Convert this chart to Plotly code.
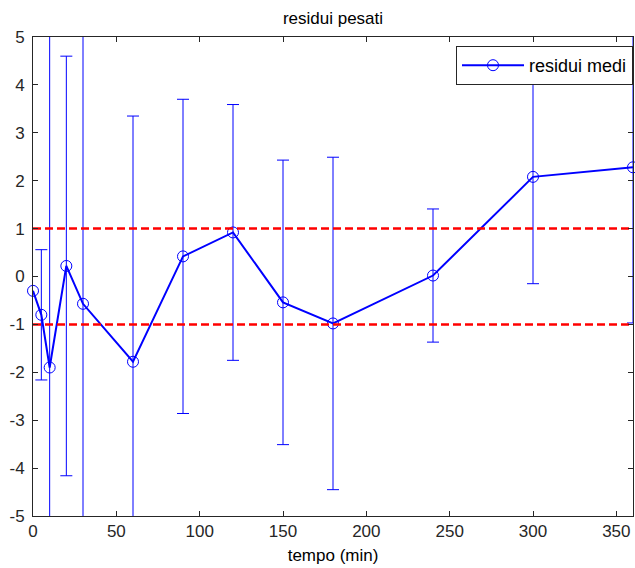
import plotly.graph_objects as go

# ---- data ----
TIME = [0, 5, 10, 20, 30, 60, 90, 120, 150, 180, 240, 300, 360]
RESIDUI = [-0.30, -0.80, -1.90, 0.22, -0.57, -1.78, 0.42, 0.92, -0.54, -0.98, 0.02, 2.08, 2.28]
ERRORI = [None, 1.36, 7.5, 4.38, 6.0, 5.13, 3.28, 2.67, 2.97, 3.47, 1.39, 2.23, 3.25]
LIMITI = [-1, 1]
X_RANGE = [0, 360]
Y_RANGE = [-5, 5]
XTICKS = [0, 50, 100, 150, 200, 250, 300, 350]
YTICKS = [-5, -4, -3, -2, -1, 0, 1, 2, 3, 4, 5]

BLUE = "#0000ff"
FONT = "Liberation Sans, Arial, sans-serif"

fig = go.Figure()

# error bars (only where visible)
ex = [t for t, e in zip(TIME, ERRORI) if e is not None]
ey = [r for r, e in zip(RESIDUI, ERRORI) if e is not None]
ee = [e for e in ERRORI if e is not None]
fig.add_trace(go.Scatter(
    x=ex, y=ey, mode="markers",
    marker=dict(size=1, color="rgba(0,0,0,0)"),
    error_y=dict(type="data", array=ee, visible=True, color=BLUE, thickness=1, width=6),
    showlegend=False, hoverinfo="skip",
))

# main line with open circles
fig.add_trace(go.Scatter(
    x=TIME, y=RESIDUI, mode="lines+markers", name="residui medi",
    line=dict(color=BLUE, width=2),
    marker=dict(symbol="circle-open", size=11, color=BLUE, line=dict(width=1, color=BLUE)),
    cliponaxis=False,
))

# red dashed limit lines
for lim in LIMITI:
    fig.add_trace(go.Scatter(
        x=X_RANGE, y=[lim, lim], mode="lines",
        line=dict(color="#ff0000", width=2.5, dash="8px,4px"),
        showlegend=False, hoverinfo="skip",
    ))

axis_common = dict(
    showline=True, linecolor="#262626", linewidth=1, mirror="ticks",
    ticks="inside", ticklen=5, tickwidth=1, tickcolor="#262626",
    showgrid=False, zeroline=False, automargin=False,
    tickfont=dict(family=FONT, size=17, color="#262626"),
)

W, H = 635, 568
fig.update_layout(
    width=W, height=H,
    margin=dict(l=33, r=2, t=37, b=52),
    paper_bgcolor="white", plot_bgcolor="white",
    title=dict(text="residui pesati", x=0.5, xref="paper", xanchor="center",
               y=1 - 18 / H, yanchor="middle", automargin=False,
               font=dict(family=FONT, size=17, color="black")),
    xaxis=dict(range=X_RANGE, tickvals=XTICKS, ticktext=[str(v) for v in XTICKS],
               title=dict(text="tempo (min)", font=dict(family=FONT, size=17, color="black"), standoff=8),
               **axis_common),
    yaxis=dict(range=Y_RANGE, tickvals=YTICKS, ticktext=[str(v) for v in YTICKS],
               ticklabelstandoff=4, **axis_common),
    legend=dict(x=1, xanchor="right", y=1 - 9 / 479, yanchor="top",
                bgcolor="white", bordercolor="#262626", borderwidth=1,
                font=dict(family=FONT, size=18, color="black"),
                itemwidth=62, tracegroupgap=0),
    showlegend=True,
)

fig.write_html(
    "out.html",
    config={"displayModeBar": False},
    post_script="document.body.style.margin='0';document.body.style.overflow='hidden';",
)
